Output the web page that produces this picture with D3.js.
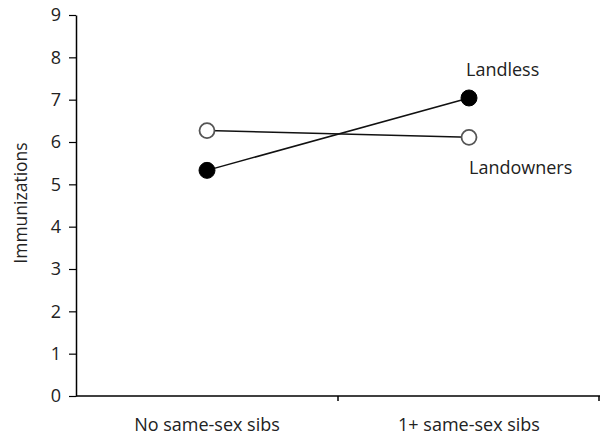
<!DOCTYPE html>
<html>
<head>
<meta charset="utf-8">
<script src="https://cdn.jsdelivr.net/npm/d3@7"></script>
<style>
  body { margin: 0; background: #fff; }
  svg { display: block; font-family: "Open Sans", "Noto Sans", sans-serif; }
</style>
</head>
<body>
<svg id="chart" width="602" height="436"></svg>
<script>
// Sibling composition categories on the x axis
const categories = ["No same-sex sibs", "1+ same-sex sibs"];
// Mean immunizations by group
const landless = [5.33, 7.04];
const landowners = [6.27, 6.11];
const yTicks = [0, 1, 2, 3, 4, 5, 6, 7, 8, 9];

const svg = d3.select("#chart");
const margin = { left: 76, right: 2, top: 15, bottom: 40 };
const W = 602, H = 436;
const FS = 18;

const x = d3.scaleBand().domain(categories).range([margin.left, W - margin.right]);
const y = d3.scaleLinear().domain([0, 9]).range([H - margin.bottom, margin.top]);

// y axis
const yAxis = svg.append("g")
  .attr("transform", `translate(${margin.left},0)`)
  .call(d3.axisLeft(y).tickValues(yTicks).tickSize(7).tickPadding(8).tickSizeOuter(0));
yAxis.select(".domain").attr("stroke", "#000").attr("stroke-width", 1.5);
yAxis.selectAll(".tick line").attr("stroke", "#000").attr("stroke-width", 1.2);
yAxis.selectAll(".tick text").attr("font-size", FS).attr("fill", "#222").attr("font-family", "Open Sans");

// x axis: ticks at the band boundaries
const xAxisG = svg.append("g").attr("transform", `translate(0,${y(0)})`);
xAxisG.append("line")
  .attr("x1", margin.left).attr("x2", W - margin.right)
  .attr("stroke", "#000").attr("stroke-width", 1.5);
const bounds = [x(categories[1]), W - margin.right - 1];
xAxisG.selectAll(".xtick").data(bounds).join("line")
  .attr("x1", d => d).attr("x2", d => d)
  .attr("y1", 0).attr("y2", 5)
  .attr("stroke", "#000").attr("stroke-width", 1.5);
xAxisG.selectAll(".xlabel").data(categories).join("text")
  .attr("x", d => x(d) + x.bandwidth() / 2)
  .attr("y", 35)
  .attr("text-anchor", "middle")
  .attr("font-size", FS)
  .attr("fill", "#222")
  .text(d => d);

// y axis title
svg.append("text")
  .attr("transform", `translate(27,203) rotate(-90)`)
  .attr("text-anchor", "middle")
  .attr("font-size", 17.5)
  .attr("fill", "#222")
  .text("Immunizations");

const cx = d => x(d) + x.bandwidth() / 2;
const line = d3.line().x(d => cx(d.c)).y(d => y(d.v));

function series(values, filled) {
  const pts = categories.map((c, i) => ({ c, v: values[i] }));
  svg.append("path")
    .datum(pts)
    .attr("d", line)
    .attr("fill", "none")
    .attr("stroke", "#111")
    .attr("stroke-width", 1.5);
  svg.selectAll(null).data(pts).join("circle")
    .attr("cx", d => cx(d.c))
    .attr("cy", d => y(d.v))
    .attr("r", filled ? 8 : 7.5)
    .attr("fill", filled ? "#000" : "#fff")
    .attr("stroke", filled ? "#000" : "#555")
    .attr("stroke-width", filled ? 1 : 1.8);
}
series(landowners, false);
series(landless, true);

// series labels
svg.append("text")
  .attr("x", cx(categories[1]) - 3).attr("y", y(landless[1]) - 22)
  .attr("font-size", FS).attr("fill", "#222")
  .text("Landless");
svg.append("text")
  .attr("x", cx(categories[1])).attr("y", y(landowners[1]) + 37)
  .attr("font-size", FS).attr("fill", "#222")
  .text("Landowners");
</script>
</body>
</html>
